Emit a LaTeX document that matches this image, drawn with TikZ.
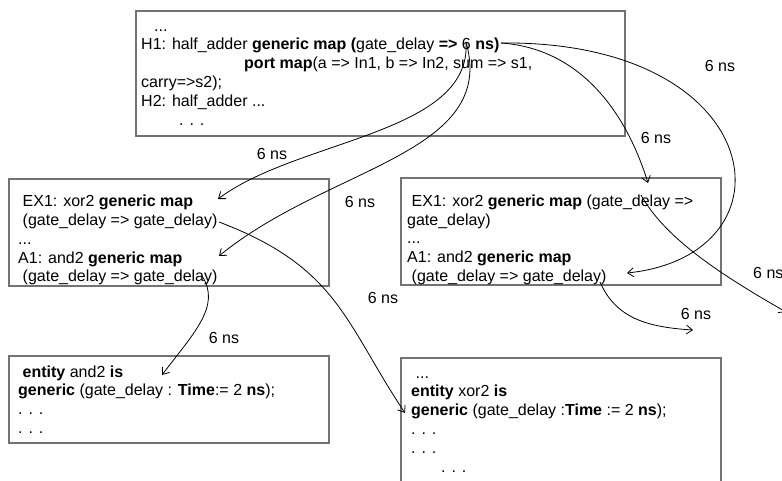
\documentclass[tikz,border=0pt]{standalone}
\usepackage{fontspec}
\setmainfont{Liberation Sans}
\usetikzlibrary{arrows.meta}
\newcommand\codefont{\fontsize{16}{18.8}\selectfont}

\begin{document}
\begin{tikzpicture}[x=1pt, y=-1pt, ->, >={Straight Barb[length=6pt,width=9pt]},
  box/.style={draw=black!55, line width=1.6pt, rectangle, inner sep=0pt, anchor=north west},
  code/.style={align=left, anchor=north west, inner sep=0pt, font=\codefont},
  conn/.style={line width=0.8pt},
  lbl/.style={font=\codefont, inner sep=0pt}]
  \useasboundingbox (0,0) rectangle (782,480);

  % boxes
  \node[box, minimum width=489pt, minimum height=125pt] (hadd) at (135,10) {};
  \node[box, minimum width=320pt, minimum height=107pt] (exl) at (8,178) {};
  \node[box, minimum width=320pt, minimum height=107pt] (exr) at (400,177) {};
  \node[box, minimum width=320pt, minimum height=87pt] (andl) at (8,355) {};
  \node[box, minimum width=320pt, minimum height=140pt] (xorr) at (400,357) {};

  % code in the boxes
  \node[code] (haddtxt) at (141,17.8) {\strut\hspace*{13pt}...\\
    \strut H1: half\_adder \textbf{generic map (}gate\_delay \textbf{=>} 6 \textbf{ns)}\\
    \strut\hspace*{103pt}\textbf{port map}(a => In1, b => In2, sum => s1,\\
    \strut carry=>s2);\\
    \strut H2: half\_adder ...\\
    \strut\hspace*{38pt}. . .};
  \node[code] (exltxt) at (18,193.3) {\strut\hspace*{4.5pt}EX1: xor2 \textbf{generic map}\\
    \strut\hspace*{4.5pt}(gate\_delay => gate\_delay)\\
    \strut...\\
    \strut A1: and2 \textbf{generic map}\\
    \strut\hspace*{4.5pt}(gate\_delay => gate\_delay)};
  \node[code] (exrtxt) at (407,193) {\strut\hspace*{4.5pt}EX1: xor2 \textbf{generic map} (gate\_delay =>\\
    \strut gate\_delay)\\
    \strut...\\
    \strut A1: and2 \textbf{generic map}\\
    \strut\hspace*{4.5pt}(gate\_delay => gate\_delay)};
  \node[code] (andltxt) at (18,363.8) {\strut\hspace*{4.5pt}\textbf{entity} and2 \textbf{is}\\
    \strut\textbf{generic} (gate\_delay : \textbf{Time}:= 2 \textbf{ns});\\
    \strut. . .\\
    \strut. . .};
  \node[code] (xorrtxt) at (411,364.8) {\strut\hspace*{4.5pt}...\\
    \strut\textbf{entity} xor2 \textbf{is}\\
    \strut\textbf{generic} (gate\_delay :\textbf{Time} := 2 \textbf{ns});\\
    \strut. . .\\
    \strut. . .\\
    \strut\hspace*{30pt}. . .};

  % ends of the connectors
  \coordinate (six) at (466,42);
  \coordinate (nsend) at (501,43);
  \coordinate (exlgen) at (218,199);
  \coordinate (alfgen) at (219,256);
  \coordinate (exlgd) at (219,222);
  \coordinate (allgd) at (202,276);
  \coordinate (andent) at (162,375);
  \coordinate (xorgen) at (405,413);
  \coordinate (exrgd) at (648,183);
  \coordinate (exrund) at (641,195);
  \coordinate (arrgd) at (627,273);
  \coordinate (arrend) at (600,282);
  \coordinate (freea) at (693,330);
  \coordinate (freeb) at (786,312);

  % connectors
  \draw[conn] (six) .. controls (472,134) and (298,139) .. (exlgen);
  \draw[conn] (six) .. controls (498,154) and (329,166) .. (alfgen);
  \draw[conn] (nsend) .. controls (770,40) and (800,255) .. (arrgd);
  \draw[conn] (nsend) .. controls (574,48) and (623,103) .. (exrgd);
  \draw[conn] (exlgd) .. controls (338,267) and (345,323) .. (xorgen);
  \draw[conn] (allgd) .. controls (222,306) and (192,335) .. (andent);
  \draw[conn] (arrend) .. controls (615,316) and (643,327) .. (freea);
  \draw[conn] (exrund) .. controls (666,240) and (725,277) .. (freeb);

  % delays
  \node[lbl] (d1) at (272,154) {6 ns};
  \node[lbl] (d2) at (360,202) {6 ns};
  \node[lbl] (d3) at (720,66) {6 ns};
  \node[lbl] (d4) at (656,138) {6 ns};
  \node[lbl] (d5) at (383,298) {6 ns};
  \node[lbl] (d6) at (224,338) {6 ns};
  \node[lbl] (d7) at (696,314) {6 ns};
  \node[lbl, anchor=west] (d8) at (753,273) {6 ns};
\end{tikzpicture}
\end{document}
